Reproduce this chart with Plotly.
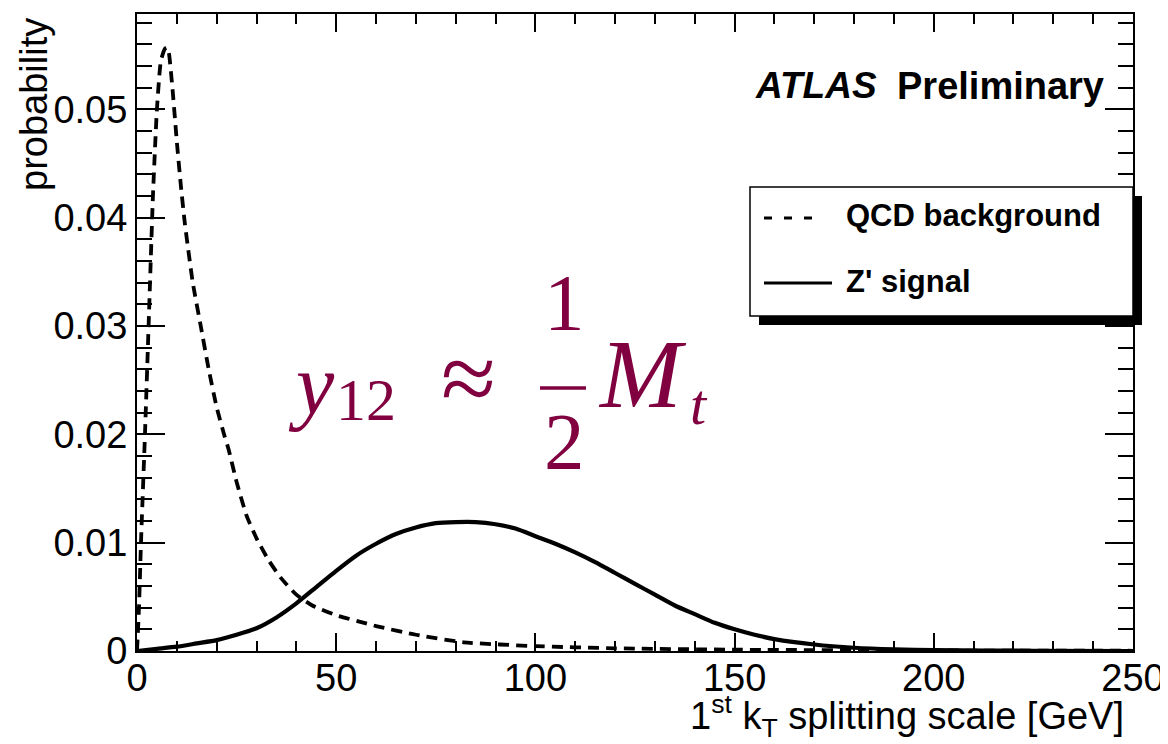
import plotly.graph_objects as go

# ---- data ----
qcd_x = [0, 0.5, 1, 2, 3, 4, 5, 6, 7, 7.5, 8, 9, 10, 11, 12, 14, 16, 18, 20, 22, 23, 25, 27.5,
         30, 33, 36, 40, 44, 50, 57, 60, 70, 82, 100, 120, 150, 200, 250]
qcd_y = [0, 0.004, 0.010, 0.020, 0.031, 0.042, 0.050, 0.0545, 0.0556, 0.0557, 0.0552, 0.0515,
         0.0470, 0.0430, 0.0395, 0.0340, 0.0300, 0.0260, 0.0225, 0.0198, 0.0186, 0.0156, 0.0125,
         0.0104, 0.0084, 0.0068, 0.0052, 0.0042, 0.0033, 0.0026, 0.0023, 0.0015, 0.0008,
         0.00045, 0.00025, 0.00012, 0.00005, 0.00002]

sig_x = [0, 5, 10, 15, 20, 25, 30, 35, 40, 45, 50, 55, 60, 65, 70, 75, 80, 85, 90, 95, 100, 105,
         110, 115, 120, 125, 130, 135, 140, 145, 150, 155, 160, 170, 180, 190, 200, 225, 250]
sig_y = [0, 0.0002, 0.0004, 0.0007, 0.0010, 0.0015, 0.0021, 0.0031, 0.0044, 0.0059, 0.0074,
         0.0088, 0.0099, 0.0108, 0.0114, 0.0118, 0.0119, 0.0119, 0.0117, 0.0113, 0.0106, 0.0099,
         0.0091, 0.0082, 0.0072, 0.0062, 0.0052, 0.0042, 0.0034, 0.0026, 0.0020, 0.0015, 0.0011,
         0.0006, 0.0003, 0.00015, 0.00008, 0.00002, 0.0]

y_tickvals = [0, 0.01, 0.02, 0.03, 0.04, 0.05]
y_ticktext = ["0", "0.01", "0.02", "0.03", "0.04", "0.05"]
x_tickvals = [0, 50, 100, 150, 200, 250]
x_ticktext = ["0", "50", "100", "150", "200", "250"]

legend_labels = ["QCD background", "Z' signal"]

FONT = "Liberation Sans, Arial, Helvetica, sans-serif"
SERIF = "Liberation Serif, Times New Roman, serif"
FCOL = "rgb(128,0,64)"

OFF = 8  # default page body margin
W, H = 1168 - OFF, 744 - OFF
# plot area in page pixels
L, R, T, B = 137, 1133, 14, 651


def px(x):
    return (x - L) / (R - L)


def py(y):
    return (B - y) / (B - T)


fig = go.Figure()
fig.add_trace(go.Scatter(x=qcd_x, y=qcd_y, mode="lines", name=legend_labels[0],
                         line=dict(color="black", width=3.8, dash="11px,7px", shape="spline",
                                   smoothing=0.5)))
fig.add_trace(go.Scatter(x=sig_x, y=sig_y, mode="lines", name=legend_labels[1],
                         line=dict(color="black", width=4.2, shape="spline", smoothing=0.6)))

fig.update_layout(
    width=W, height=H,
    margin=dict(l=L - OFF, r=W - (R - OFF), t=T - OFF, b=H - (B - OFF), autoexpand=False),
    paper_bgcolor="white", plot_bgcolor="white",
    showlegend=False,
    font=dict(family=FONT, color="black", size=38),
)

fig.update_xaxes(range=[0, 250], showgrid=False, zeroline=False, automargin=False,
                 showline=True, linecolor="black", linewidth=2, mirror="ticks",
                 ticks="inside", ticklen=18, tickwidth=1.5, tickcolor="black",
                 tickvals=x_tickvals, ticktext=x_ticktext, ticklabelstandoff=-8,
                 tickfont=dict(size=38, family=FONT),
                 minor=dict(dtick=10, ticks="inside", ticklen=10, tickwidth=1.5, tickcolor="black"))
fig.update_yaxes(range=[0, 0.0588], showgrid=False, zeroline=False, automargin=False,
                 showline=True, linecolor="black", linewidth=2, mirror="ticks",
                 ticks="inside", ticklen=28, tickwidth=1.5, tickcolor="black",
                 tickvals=y_tickvals, ticktext=y_ticktext,
                 tickfont=dict(size=38, family=FONT),
                 minor=dict(dtick=0.002, ticks="inside", ticklen=15, tickwidth=1.5, tickcolor="black"))

ann = []
# axis titles
ann.append(dict(text="1<sup>st</sup> k<sub>T</sub> splitting scale [GeV]", xref="paper", yref="paper",
                x=px(1126), y=py(745), xanchor="right", yanchor="bottom", showarrow=False,
                font=dict(size=38, family=FONT)))
ann.append(dict(text="probability", xref="paper", yref="paper", textangle=-90,
                x=px(34), y=py(105), xanchor="center", yanchor="middle", showarrow=False,
                font=dict(size=38, family=FONT)))
# ATLAS label
ann.append(dict(text="<b><i>ATLAS</i></b>", xref="paper", yref="paper", x=px(753), y=py(86),
                xanchor="left", yanchor="middle", showarrow=False, font=dict(size=37, family=FONT)))
ann.append(dict(text="<b>Preliminary</b>", xref="paper", yref="paper", x=px(895), y=py(86),
                xanchor="left", yanchor="middle", showarrow=False, font=dict(size=38, family=FONT)))
# legend text
ann.append(dict(text="<b>" + legend_labels[0] + "</b>", xref="paper", yref="paper", x=px(844), y=py(216),
                xanchor="left", yanchor="middle", showarrow=False, font=dict(size=31, family=FONT)))
ann.append(dict(text="<b>" + legend_labels[1] + "</b>", xref="paper", yref="paper", x=px(844), y=py(281),
                xanchor="left", yanchor="middle", showarrow=False, font=dict(size=31, family=FONT)))
# formula y12 ≈ 1/2 M_t
ann.append(dict(text="<i>y</i>", xref="paper", yref="paper", x=px(286), y=py(384),
                xanchor="left", yanchor="middle", showarrow=False, font=dict(size=86, family=SERIF, color=FCOL)))
ann.append(dict(text="12", xref="paper", yref="paper", x=px(334), y=py(400),
                xanchor="left", yanchor="middle", showarrow=False, font=dict(size=60, family=SERIF, color=FCOL)))
ann.append(dict(text="≈", xref="paper", yref="paper", x=px(468), y=py(378),
                xanchor="center", yanchor="middle", showarrow=False, font=dict(size=100, family=SERIF, color=FCOL)))
ann.append(dict(text="1", xref="paper", yref="paper", x=px(564), y=py(303),
                xanchor="center", yanchor="middle", showarrow=False, font=dict(size=81, family=SERIF, color=FCOL)))
ann.append(dict(text="2", xref="paper", yref="paper", x=px(564), y=py(442),
                xanchor="center", yanchor="middle", showarrow=False, font=dict(size=81, family=SERIF, color=FCOL)))
ann.append(dict(text="<i>M</i>", xref="paper", yref="paper", x=px(596), y=py(374),
                xanchor="left", yanchor="middle", showarrow=False, font=dict(size=98, family=SERIF, color=FCOL)))
ann.append(dict(text="<i>t</i>", xref="paper", yref="paper", x=px(688), y=py(404),
                xanchor="left", yanchor="middle", showarrow=False, font=dict(size=58, family=SERIF, color=FCOL)))
fig.update_layout(annotations=ann)

shapes = []
# fraction bar
shapes.append(dict(type="line", xref="paper", yref="paper", x0=px(540), x1=px(586), y0=py(388), y1=py(388),
                   line=dict(color=FCOL, width=3.5)))
# legend shadow + box
shapes.append(dict(type="rect", xref="paper", yref="paper", x0=px(759), x1=px(1142), y0=py(325), y1=py(196),
                   fillcolor="black", line=dict(width=0), layer="above"))
shapes.append(dict(type="rect", xref="paper", yref="paper", x0=px(750), x1=px(1133), y0=py(316), y1=py(187),
                   fillcolor="white", line=dict(color="black", width=1.5), layer="above"))
shapes.append(dict(type="line", xref="paper", yref="paper", x0=px(764), x1=px(824), y0=py(218), y1=py(218),
                   line=dict(color="black", width=3, dash="8px,12px"), layer="above"))
shapes.append(dict(type="line", xref="paper", yref="paper", x0=px(764), x1=px(832), y0=py(283), y1=py(283),
                   line=dict(color="black", width=3), layer="above"))
fig.update_layout(shapes=shapes)

fig.write_html("out.html")
